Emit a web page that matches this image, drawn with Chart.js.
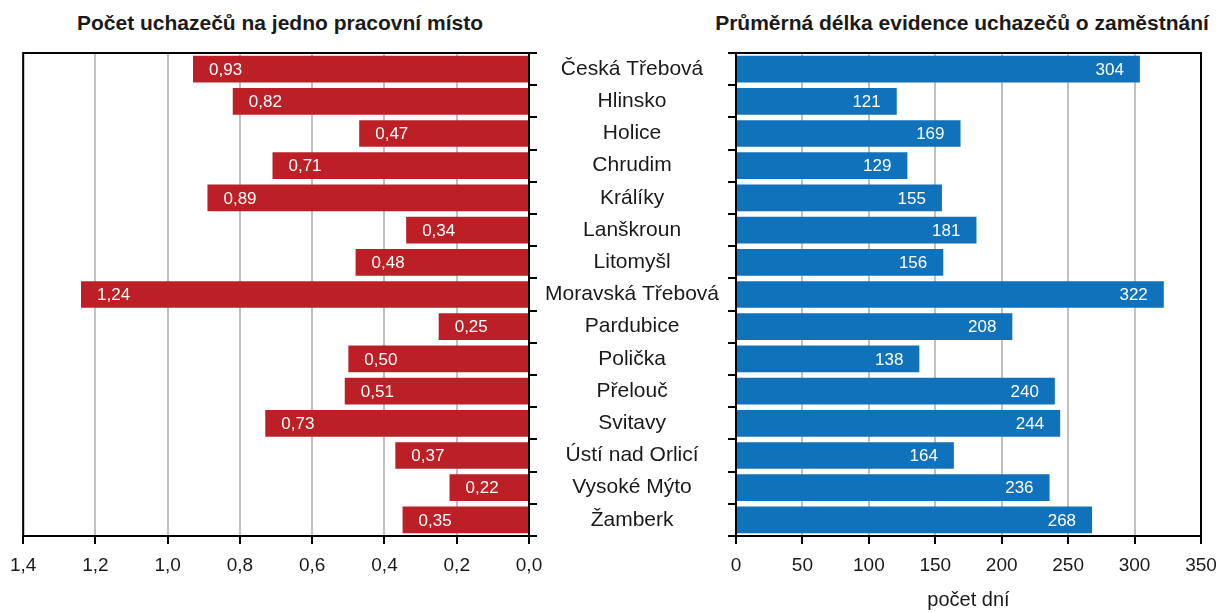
<!DOCTYPE html>
<html lang="cs">
<head>
  <meta charset="UTF-8" />
  <title>Uchazeči o zaměstnání</title>
  <script src="https://cdn.jsdelivr.net/npm/chart.js"></script>
  <style>
    body {
      margin: 0;
      background: #ffffff;
      font-family: 'Liberation Sans', Arial, sans-serif;
    }
    .page {
      position: relative;
      width: 1222px;
      height: 612px;
      overflow: hidden;
    }
    .title {
      position: absolute;
      top: 11px;
      font-weight: bold;
      font-size: 21px;
      color: #1a1a1a;
      white-space: nowrap;
      transform: translateX(-50%);
    }
    canvas {
      position: absolute;
      top: 0;
    }
  </style>
</head>
<body>
  <div class="page">
    <div class="title" style="left: 280px;">Počet uchazečů na jedno pracovní místo</div>
    <div class="title" style="left: 962px;">Průměrná délka evidence uchazečů o zaměstnání</div>
    <canvas id="ratioChart" width="555" height="612" style="left: 0;"></canvas>
    <canvas id="daysChart" width="690" height="612" style="left: 540px;"></canvas>
  </div>

  <script>
    const districts = ['Česká Třebová', 'Hlinsko', 'Holice', 'Chrudim', 'Králíky', 'Lanškroun', 'Litomyšl',
      'Moravská Třebová', 'Pardubice', 'Polička', 'Přelouč', 'Svitavy', 'Ústí nad Orlicí', 'Vysoké Mýto', 'Žamberk'];
    const applicantsPerJob = [0.93, 0.82, 0.47, 0.71, 0.89, 0.34, 0.48, 1.24, 0.25, 0.50, 0.51, 0.73, 0.37, 0.22, 0.35];
    const avgDays = [304, 121, 169, 129, 155, 181, 156, 322, 208, 138, 240, 244, 164, 236, 268];
    const ratioTicks = { min: 0, max: 1.4, step: 0.2 };
    const daysTicks = { min: 0, max: 350, step: 50 };

    Chart.defaults.font.family = "'Liberation Sans', Arial, sans-serif";
    Chart.defaults.color = '#1a1a1a';

    // black frame round the plot area
    const frame = {
      id: 'frame',
      afterDraw(chart) {
        const { ctx, chartArea: a } = chart;
        ctx.save();
        ctx.strokeStyle = '#000';
        ctx.lineWidth = 2;
        ctx.strokeRect(a.left, a.top, a.right - a.left, a.bottom - a.top);
        ctx.restore();
      }
    };

    // white value labels inside the bar end
    function valueLabels(fmt, side) {
      return {
        id: 'valueLabels',
        afterDatasetsDraw(chart) {
          const { ctx } = chart;
          const meta = chart.getDatasetMeta(0);
          ctx.save();
          ctx.font = "17px 'Liberation Sans', Arial, sans-serif";
          ctx.fillStyle = '#ffffff';
          ctx.textBaseline = 'middle';
          ctx.textAlign = side;
          meta.data.forEach((bar, i) => {
            const v = chart.data.datasets[0].data[i];
            const x = side === 'left' ? bar.x + 16 : bar.x - 16;
            ctx.fillText(fmt(v), x, bar.y + 1);
          });
          ctx.restore();
        }
      };
    }

    const comma = (v, d) => Number(v).toFixed(d).replace('.', ',');

    new Chart(document.getElementById('ratioChart'), {
      type: 'bar',
      data: {
        labels: districts,
        datasets: [{
          data: applicantsPerJob,
          backgroundColor: '#BC2026',
          barPercentage: 0.83,
          categoryPercentage: 1
        }]
      },
      options: {
        indexAxis: 'y',
        responsive: false,
        animation: false,
        layout: { padding: { top: 53, left: 23, right: 18, bottom: 0 } },
        plugins: { legend: { display: false }, tooltip: { enabled: false } },
        scales: {
          x: {
            reverse: true,
            min: ratioTicks.min,
            max: ratioTicks.max,
            afterFit(scale) { scale.height = 76; },
            ticks: {
              stepSize: ratioTicks.step,
              padding: 10,
              font: { size: 19 },
              callback: v => comma(v, 1)
            },
            grid: { color: '#c0c0c0', lineWidth: 2, tickColor: '#000', tickWidth: 2, tickLength: 8 },
            border: { color: '#000', width: 2 }
          },
          y: {
            position: 'right',
            afterFit(scale) { scale.width = 8; },
            ticks: { display: false },
            grid: { drawOnChartArea: false, color: '#000', lineWidth: 2, tickLength: 8 },
            border: { color: '#000', width: 2 }
          }
        }
      },
      plugins: [frame, valueLabels(v => comma(v, 2), 'left')]
    });

    new Chart(document.getElementById('daysChart'), {
      type: 'bar',
      data: {
        labels: districts,
        datasets: [{
          data: avgDays,
          backgroundColor: '#1072BA',
          barPercentage: 0.83,
          categoryPercentage: 1
        }]
      },
      options: {
        indexAxis: 'y',
        responsive: false,
        animation: false,
        layout: { padding: { top: 53, left: 0, right: 29, bottom: 0 } },
        plugins: { legend: { display: false }, tooltip: { enabled: false } },
        scales: {
          x: {
            min: daysTicks.min,
            max: daysTicks.max,
            afterFit(scale) { scale.height = 76; },
            ticks: { stepSize: daysTicks.step, padding: 10, font: { size: 19 } },
            title: { display: true, text: 'počet dní', font: { size: 20 }, padding: { top: 0, bottom: 0 } },
            grid: { color: '#c0c0c0', lineWidth: 2, tickColor: '#000', tickWidth: 2, tickLength: 8 },
            border: { color: '#000', width: 2 }
          },
          y: {
            position: 'left',
            afterFit(scale) { scale.width = 196; },
            ticks: { autoSkip: false, crossAlign: 'center', padding: 9, font: { size: 21 } },
            grid: { drawOnChartArea: false, color: '#000', lineWidth: 2, tickLength: 8 },
            border: { color: '#000', width: 2 }
          }
        }
      },
      plugins: [frame, valueLabels(v => String(v), 'right')]
    });
  </script>
</body>
</html>
